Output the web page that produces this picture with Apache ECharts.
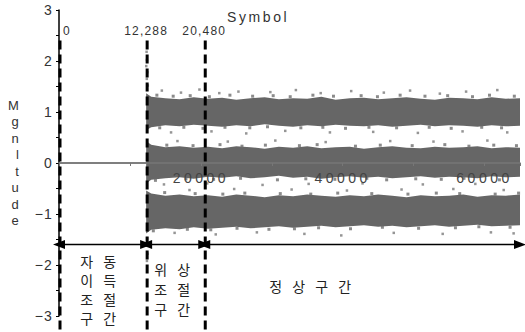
<!DOCTYPE html>
<html>
<head>
<meta charset="utf-8">
<script src="https://cdn.jsdelivr.net/npm/echarts@6/dist/echarts.min.js"></script>
<style>
    html, body { margin: 0; padding: 0; background: #fff; }
    #chart { width: 525px; height: 332px; }
</style>
</head>
<body>
<div id="chart"></div>
<script>
// sample positions along the symbol axis where band edges were read
const symbolX = [12288, 13000, 15000, 17000, 19000, 21000, 23000, 25000, 27000, 29000, 31000, 33000, 35000, 37000,
    39000, 41000, 43000, 45000, 47000, 49000, 51000, 53000, 55000, 57000, 59000, 61000, 63000, 65000];

// upper band (~ +1), solid core
const upperTop = [1.37, 1.30, 1.27, 1.25, 1.29, 1.26, 1.28, 1.24, 1.27, 1.29, 1.25, 1.27, 1.26, 1.30,
    1.24, 1.27, 1.28, 1.25, 1.27, 1.29, 1.26, 1.24, 1.28, 1.27, 1.25, 1.29, 1.26, 1.27];
const upperBottom = [0.64, 0.70, 0.74, 0.72, 0.75, 0.73, 0.71, 0.74, 0.72, 0.76, 0.73, 0.71, 0.74, 0.72,
    0.75, 0.73, 0.72, 0.74, 0.71, 0.73, 0.75, 0.72, 0.74, 0.73, 0.71, 0.74, 0.72, 0.73];
// middle band (~ 0)
const middleTop = [0.43, 0.36, 0.31, 0.33, 0.30, 0.32, 0.29, 0.33, 0.31, 0.28, 0.32, 0.30, 0.33, 0.29,
    0.31, 0.32, 0.28, 0.31, 0.33, 0.30, 0.29, 0.32, 0.30, 0.31, 0.33, 0.29, 0.31, 0.30];
const middleBottom = [-0.40, -0.33, -0.30, -0.28, -0.31, -0.27, -0.29, -0.26, -0.30, -0.28, -0.25, -0.29, -0.27, -0.31,
    -0.28, -0.26, -0.29, -0.27, -0.30, -0.28, -0.26, -0.29, -0.27, -0.28, -0.30, -0.26, -0.28, -0.27];
// lower band (~ -1)
const lowerTop = [-0.54, -0.60, -0.64, -0.62, -0.65, -0.63, -0.66, -0.62, -0.64, -0.67, -0.63, -0.65, -0.62, -0.64,
    -0.66, -0.63, -0.65, -0.62, -0.64, -0.67, -0.63, -0.65, -0.64, -0.62, -0.66, -0.63, -0.64, -0.62];
const lowerBottom = [-1.38, -1.31, -1.28, -1.30, -1.26, -1.29, -1.27, -1.25, -1.28, -1.26, -1.24, -1.27, -1.25, -1.23,
    -1.26, -1.24, -1.22, -1.25, -1.23, -1.26, -1.24, -1.22, -1.25, -1.23, -1.21, -1.24, -1.23, -1.22];

// ragged fringe along the band edges
const fringePoints = [
    [13800, 1.33], [16100, 1.31], [18500, 1.32], [21200, 1.30], [24100, 1.33], [27300, 1.31], [30200, 1.32],
    [32600, 1.30], [35800, 1.33], [38700, 1.31], [42600, 1.32], [44900, 1.30], [48100, 1.33], [51600, 1.31],
    [54800, 1.32], [58300, 1.30], [60700, 1.33], [64200, 1.31],
    [14200, 0.69], [17600, 0.70], [20300, 0.68], [23400, 0.70], [26900, 0.69], [29400, 0.71], [34100, 0.69],
    [37200, 0.70], [40400, 0.68], [43700, 0.70], [47600, 0.69], [52200, 0.70], [55300, 0.68], [59600, 0.70], [62400, 0.69],
    [15200, 0.35], [18900, 0.34], [22700, 0.36], [25800, 0.33], [29100, 0.35], [33900, 0.34], [36400, 0.36],
    [41800, 0.33], [45300, 0.35], [49800, 0.34], [54400, 0.36], [57800, 0.33], [61300, 0.35], [64500, 0.34],
    [13600, -0.34], [17900, -0.31], [21800, -0.32], [25600, -0.30], [30800, -0.33], [34800, -0.31], [38900, -0.32],
    [43400, -0.30], [46200, -0.33], [50300, -0.31], [53900, -0.32], [57100, -0.30], [62100, -0.33],
    [14900, -0.58], [19200, -0.60], [23100, -0.61], [26200, -0.59], [31200, -0.60], [35500, -0.61], [39300, -0.59],
    [44100, -0.60], [49200, -0.61], [53200, -0.59], [56500, -0.60], [61500, -0.61], [64800, -0.59],
    [13300, -1.33], [18100, -1.30], [21400, -1.31], [25100, -1.28], [29600, -1.30], [33200, -1.29], [36600, -1.27],
    [41100, -1.29], [45600, -1.26], [50700, -1.28], [55900, -1.27], [59200, -1.25], [63600, -1.26]
];

// stray samples outside the bands, incl. the transient at 12,288
const strayPoints = [
    [12350, 2.18], [12400, 2.02], [12300, 1.90], [12450, 1.78], [12380, 1.65], [12520, 1.52],
    [12420, -1.48], [12360, -1.62], [12480, -1.78], [12400, -1.92],
    [14500, 1.42], [17200, 1.38], [19800, 1.44], [22600, 1.37], [25300, 1.40], [29800, 1.39], [33400, 1.43],
    [36900, 1.37], [41200, 1.41], [45800, 1.38], [49500, 1.42], [53700, 1.36], [57400, 1.40], [61800, 1.43],
    [15800, 0.60], [21500, 0.62], [26400, 0.58], [31900, 0.63], [38200, 0.60], [44300, 0.61], [50600, 0.59],
    [56900, 0.62], [63200, 0.60],
    [16700, 0.43], [23800, 0.42], [30500, 0.44], [37600, 0.41], [46700, 0.43], [52800, 0.42], [60400, 0.44],
    [14800, -0.42], [20900, -0.40], [28700, -0.43], [35200, -0.41], [42800, -0.40], [51300, -0.42], [58700, -0.41],
    [18400, -0.53], [24700, -0.51], [32800, -0.52], [40600, -0.54], [48300, -0.52], [55600, -0.51], [62700, -0.53],
    [16300, -1.37], [22100, -1.40], [27900, -1.36], [34600, -1.39], [39800, -1.42], [47200, -1.37], [54100, -1.39],
    [60900, -1.36], [64100, -1.38]
];

// AGC section: flat zero output
const agcLine = [[0, 0], [12288, 0]];

// section boundaries (symbol index) and their labels
const boundaries = [0, 12288, 20480];
const boundaryLabels = ['0', '12,288', '20,480'];
const symbolEnd = 65000;
const arrowLevel = -1.6;

// section captions, one entry per printed line
const captionLines = [
    { text: '자 동', x: 100, y: 261 },
    { text: '이 득', x: 100, y: 280 },
    { text: '조 절', x: 100, y: 299 },
    { text: '구 간', x: 100, y: 318 },
    { text: '위 상', x: 174, y: 269 },
    { text: '조 절', x: 174, y: 289 },
    { text: '구 간', x: 174, y: 309 },
    { text: '정 상 구 간', x: 312, y: 286 }
];

const bands = [
    { top: upperTop, bottom: upperBottom },
    { top: middleTop, bottom: middleBottom },
    { top: lowerTop, bottom: lowerBottom }
];

const bandColor = '#666666';

const chart = echarts.init(document.getElementById('chart'), null, { renderer: 'svg' });

const sectionEdges = [0, 12288, 20480, symbolEnd];
const arrows = [];
for (let i = 0; i < sectionEdges.length - 1; i++) {
    arrows.push([
        { coord: [sectionEdges[i], arrowLevel] },
        { coord: [sectionEdges[i + 1], arrowLevel] }
    ]);
}

const option = {
    animation: false,
    title: {
        text: 'Symbol',
        left: 222,
        top: 5,
        textStyle: { fontSize: 14, fontWeight: 'normal', color: '#333', fontFamily: 'Liberation Sans' }
    },
    grid: { left: 59, right: 5, top: 10, bottom: 16 },
    xAxis: {
        type: 'value',
        min: 0,
        max: symbolEnd,
        interval: 10000,
        z: 5,
        offset: -153,
        axisLine: { onZero: false, lineStyle: { color: '#777', width: 1.5 } },
        axisTick: { show: true, length: 3, lineStyle: { color: '#777' } },
        axisLabel: {
            margin: 8,
            fontSize: 14,
            color: '#444',
            fontFamily: 'Liberation Sans',
            formatter: v => (v > 0 && v % 20000 === 0) ? String(v) : ''
        },
        splitLine: { show: false }
    },
    yAxis: {
        type: 'value',
        min: -3,
        max: 3,
        interval: 0.5,
        name: 'M\ng\nn\nl\nt\nu\nd\ne',
        nameLocation: 'middle',
        nameRotate: 0,
        nameGap: 39,
        nameTextStyle: { fontSize: 13, lineHeight: 16.5, color: '#333', fontFamily: 'Liberation Sans' },
        axisLine: { show: true, lineStyle: { color: '#000', width: 1.5 } },
        axisTick: { show: true, length: 3, lineStyle: { color: '#000' } },
        axisLabel: {
            margin: 6,
            fontSize: 14,
            color: '#333',
            fontFamily: 'Liberation Sans',
            formatter: v => Number.isInteger(v) ? String(v).replace('-', '\u2212') : ''
        },
        splitLine: { show: false }
    },
    series: [
        {
            name: 'bands',
            type: 'custom',
            data: [[12288, 1], [12288, 0], [12288, -1]],
            silent: true,
            z: 2,
            renderItem: (params, api) => {
                const band = bands[params.dataIndex];
                const upper = symbolX.map((x, i) => api.coord([x, band.top[i]]));
                const lower = symbolX.map((x, i) => api.coord([x, band.bottom[i]])).reverse();
                return {
                    type: 'polygon',
                    shape: { points: upper.concat(lower) },
                    style: { fill: bandColor }
                };
            }
        },
        {
            name: 'fringe',
            type: 'scatter',
            data: fringePoints,
            symbol: 'rect',
            symbolSize: 3,
            itemStyle: { color: '#6e6e6e' },
            silent: true,
            z: 2
        },
        {
            name: 'stray',
            type: 'scatter',
            data: strayPoints,
            symbol: 'rect',
            symbolSize: 2.5,
            itemStyle: { color: '#7a7a7a' },
            silent: true,
            z: 2,
            markLine: {
                silent: true,
                symbol: ['triangle', 'triangle'],
                symbolSize: [9, 12],
                lineStyle: { color: '#000', width: 1.3, type: 'solid' },
                itemStyle: { color: '#000' },
                label: { show: false },
                data: arrows
            }
        },
        {
            name: 'agc',
            type: 'line',
            data: agcLine,
            showSymbol: false,
            lineStyle: { color: '#777', width: 1.5 },
            z: 3
        },
        {
            // section boundaries: dashed verticals running below the plot
            name: 'boundaries',
            type: 'custom',
            data: boundaries.map(b => [b, 2.4]),
            silent: true,
            clip: false,
            z: 6,
            renderItem: (params, api) => {
                const x = api.value(0);
                const top = api.coord([x, 2.4]);
                const bottom = api.coord([x, -3.5]);
                const first = params.dataIndex === 0;
                return {
                    type: 'group',
                    children: [
                        {
                            type: 'line',
                            shape: { x1: top[0] + 1, y1: top[1], x2: bottom[0] + 1, y2: bottom[1] },
                            style: { stroke: '#000', lineWidth: 3, lineDash: [9, 5] }
                        },
                        {
                            type: 'text',
                            x: top[0] + (first ? 4 : 0),
                            y: top[1] - 4,
                            style: {
                                text: boundaryLabels[params.dataIndex],
                                font: '12px "Liberation Sans"',
                                fill: '#333',
                                align: first ? 'left' : 'center',
                                verticalAlign: 'bottom'
                            }
                        }
                    ]
                };
            }
        }
    ],
    graphic: captionLines.map(c => ({
        type: 'text',
        x: c.x,
        y: c.y,
        style: {
            text: c.text,
            font: '14px "Noto Sans CJK KR"',
            fill: '#222',
            align: 'center',
            verticalAlign: 'middle'
        }
    }))
};

chart.setOption(option);

// the scanned figure uses widely tracked lettering
function spaceLetters() {
    document.querySelectorAll('#chart text').forEach(t => {
        const s = t.textContent;
        let ls = 1.2;
        if (/^\d0000$/.test(s)) ls = 3.5;
        else if (s === 'Symbol') ls = 2.6;
        else if (/[\uac00-\ud7a3]/.test(s)) ls = 3.5;
        t.style.letterSpacing = ls + 'px';
    });
}
spaceLetters();
chart.on('finished', spaceLetters);
</script>
</body>
</html>
